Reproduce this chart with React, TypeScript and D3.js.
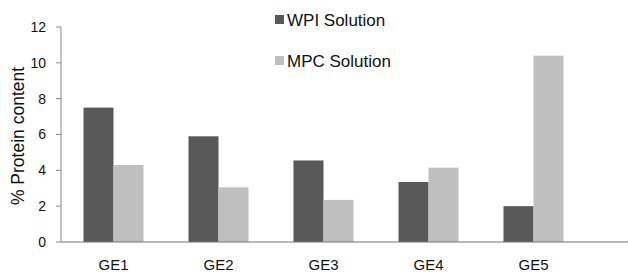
import React from "react"
import * as d3 from "d3"

const categories = ["GE1", "GE2", "GE3", "GE4", "GE5"]
const seriesNames = ["WPI Solution", "MPC Solution"]
const wpiValues = [7.5, 5.9, 4.55, 3.35, 2.0]
const mpcValues = [4.3, 3.05, 2.35, 4.15, 10.4]
const yTicks = [0, 2, 4, 6, 8, 10, 12]

const colors = ["#595959", "#bfbfbf"]
const width = 628
const height = 272
const margin = { top: 27, right: 42, bottom: 30, left: 61 }

export default function App() {
  const boundsWidth = width - margin.left - margin.right
  const boundsHeight = height - margin.top - margin.bottom

  const x = d3.scaleBand().domain(categories).range([0, boundsWidth]).padding(0)
  const y = d3.scaleLinear().domain([0, 12]).range([boundsHeight, 0])
  const barW = 30

  const series = [wpiValues, mpcValues]

  return (
    <svg
      width={width}
      height={height}
      style={{ position: "absolute", left: 0, top: 0, fontFamily: "'Liberation Sans', Arial, sans-serif" }}
    >
      <rect width={width} height={height} fill="#fff" />
      <g transform={`translate(${margin.left},${margin.top})`}>
        {series.map((vals, si) =>
          categories.map((c, i) => {
            const cx = (x(c) ?? 0) + x.bandwidth() / 2
            return (
              <rect
                key={c + si}
                x={cx - barW + si * barW}
                y={y(vals[i])}
                width={barW}
                height={boundsHeight - y(vals[i])}
                fill={colors[si]}
              />
            )
          })
        )}
        {/* y axis */}
        <line x1={0} x2={0} y1={0} y2={boundsHeight} stroke="#888" strokeWidth={1} />
        {yTicks.map((t) => (
          <g key={t} transform={`translate(0,${y(t)})`}>
            <line x1={-5} x2={0} stroke="#888" />
            <text x={-15} dy="0.35em" textAnchor="end" fontSize={14} fill="#111">
              {t}
            </text>
          </g>
        ))}
        {/* x axis */}
        <line x1={0} x2={width - margin.left} y1={boundsHeight} y2={boundsHeight} stroke="#777" strokeWidth={1.2} />
        {categories.map((c) => (
          <text
            key={c}
            x={(x(c) ?? 0) + x.bandwidth() / 2}
            y={boundsHeight + 28}
            textAnchor="middle"
            fontSize={15}
            fill="#111"
          >
            {c}
          </text>
        ))}
      </g>
      <text
        transform={`translate(24,136) rotate(-90)`}
        textAnchor="middle"
        fontSize={17.5}
        fill="#111"
      >
        % Protein content
      </text>
      {seriesNames.map((s, i) => (
        <g key={s} transform={`translate(275,${15 + i * 41})`}>
          <rect width={9} height={9} fill={colors[i]} />
          <text x={12} y={11} fontSize={17} fill="#111">
            {s}
          </text>
        </g>
      ))}
    </svg>
  )
}
